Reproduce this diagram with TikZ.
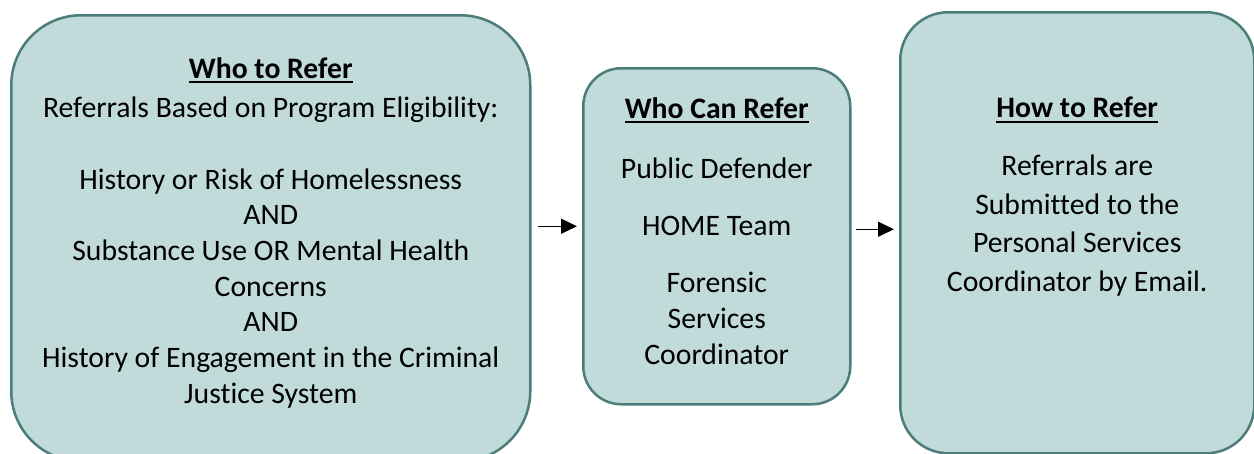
\documentclass[tikz,border=0pt]{standalone}
\usepackage{fontspec}
\setmainfont{Carlito}[Ligatures=NoCommon]
\usetikzlibrary{arrows.meta}
\definecolor{boxfill}{RGB}{192,219,218}
\definecolor{boxline}{RGB}{75,125,122}
\newcommand{\uhead}[1]{\setbox0\hbox{\bfseries #1}\usebox0\llap{\rule[-5pt]{\wd0}{2.2pt}}}
\begin{document}
\begin{tikzpicture}[x=1pt,y=-1pt]
	\tikzstyle{b} = [draw=boxline, fill=boxfill, line width=2.5pt, anchor=north west, inner sep=0pt]
	\tikzstyle{t} = [align=center, anchor=north, inner sep=0pt, font=\fontsize{29.7}{35.7}\selectfont]
	\tikzstyle{a} = [-{Triangle[length=16pt,width=15pt]}, line width=1.4pt]
	\useasboundingbox (0,0) rectangle (1254,453);
	\node[b, minimum width=519pt, minimum height=446pt, rounded corners=70pt] (who-box) at (10,14) {};
	\node[b, minimum width=267pt, minimum height=336pt, rounded corners=38pt] (can-box) at (582,67) {};
	\node[b, minimum width=354pt, minimum height=441pt, rounded corners=48pt] (how-box) at (899,11) {};
	\node[t] (who-text) at (who-box.north |- 0,57) {%
		\uhead{Who to Refer}\\[4pt]
		Referrals Based on Program Eligibility:\\[35.7pt]
		History or Risk of Homelessness\\
		AND\\
		Substance Use OR Mental Health\\
		Concerns\\
		AND\\
		History of Engagement in the Criminal\\
		Justice System};
	\node[t] (can-text) at (can-box.north |- 0,97) {%
		\uhead{Who Can Refer}\\[24.3pt]
		Public Defender\\[21.3pt]
		HOME Team\\[22pt]
		Forensic\\
		Services\\
		Coordinator};
	\node[t] (how-text) at (how-box.north |- 0,97) {%
		\uhead{How to Refer}\\[22pt]
		Referrals are\\[2.8pt]
		Submitted to the\\[2.8pt]
		Personal Services\\[2.8pt]
		Coordinator by Email.};
	\draw[a, shorten <=6pt, shorten >=5pt] ([yshift=12pt]who-box.east) -- ([yshift=10pt]can-box.west);
	\draw[a, shorten <=4pt, shorten >=5pt] ([yshift=7pt]can-box.east) -- ([yshift=3.5pt]how-box.west);
\end{tikzpicture}
\end{document}
